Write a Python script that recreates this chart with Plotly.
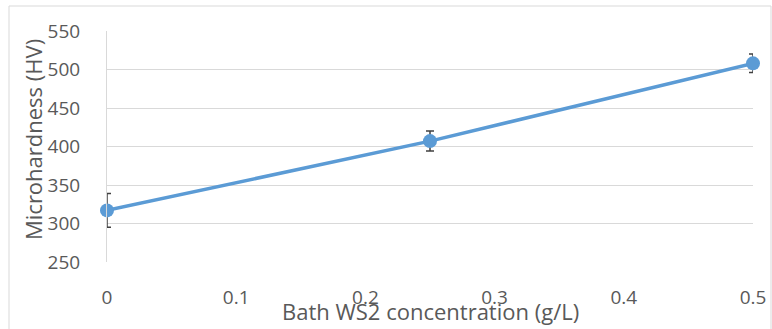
import plotly.graph_objects as go

conc = [0, 0.25, 0.5]
hardness = [317, 407, 508]
err = [22, 13, 12]
x_ticks = [0, 0.1, 0.2, 0.3, 0.4, 0.5]
x_tick_labels = ["0", "0.1", "0.2", "0.3", "0.4", "0.5"]
y_ticks = [250, 300, 350, 400, 450, 500, 550]

W, H = 772, 329
L, R, T, B = 107, 19, 31, 67
pw, ph = W - L - R, H - T - B

fig = go.Figure()
fig.add_trace(go.Scatter(
    x=conc, y=hardness, mode="lines+markers",
    line=dict(color="#5B9BD5", width=3.5),
    marker=dict(color="#5B9BD5", size=14),
    error_y=dict(type="data", array=err, visible=True, color="#404040", thickness=1.5, width=4),
    cliponaxis=False, showlegend=False,
))

font_family = "Open Sans, Liberation Sans, sans-serif"
fig.update_layout(
    width=W, height=H,
    margin=dict(l=L, r=R, t=T, b=B, autoexpand=False),
    paper_bgcolor="white", plot_bgcolor="white",
    font=dict(family=font_family, color="#595959", size=19),
    xaxis=dict(range=[0, 0.5], tickvals=x_ticks, ticktext=x_tick_labels,
               showgrid=False, zeroline=False, showline=False, automargin=False,
               ticks="outside", ticklen=18, tickcolor="rgba(0,0,0,0)",
               tickfont=dict(size=19, color="#595959")),
    yaxis=dict(range=[250, 550], tickvals=y_ticks, showgrid=True, gridcolor="#D9D9D9",
               gridwidth=1, zeroline=False, showline=True, linecolor="#D9D9D9", linewidth=1,
               ticks="outside", ticklen=22, tickcolor="rgba(0,0,0,0)", automargin=False,
               tickfont=dict(size=19, color="#595959")),
    shapes=[dict(type="rect", xref="paper", yref="paper",
                 x0=(9 - L) / pw, x1=(771 - L) / pw,
                 y0=-(H + 5 - (H - B)) / ph, y1=1 + (T - 6) / ph,
                 line=dict(color="#D9D9D9", width=1), layer="below")],
    annotations=[
        dict(text="Bath WS2 concentration (g/L)", xref="paper", yref="paper",
             x=0.5, y=-(311 - (H - B)) / ph, showarrow=False,
             font=dict(size=22, color="#595959"), yanchor="middle"),
        dict(text="Microhardness (HV)", xref="paper", yref="paper",
             x=(33 - L) / pw, y=1 - (140 - T) / ph, showarrow=False, textangle=-90,
             font=dict(size=22, color="#595959"), xanchor="center", yanchor="middle"),
    ],
)

fig.write_html("out.html", config={"displayModeBar": False},
               post_script="document.body.style.margin='0';document.body.style.overflow='hidden';")
